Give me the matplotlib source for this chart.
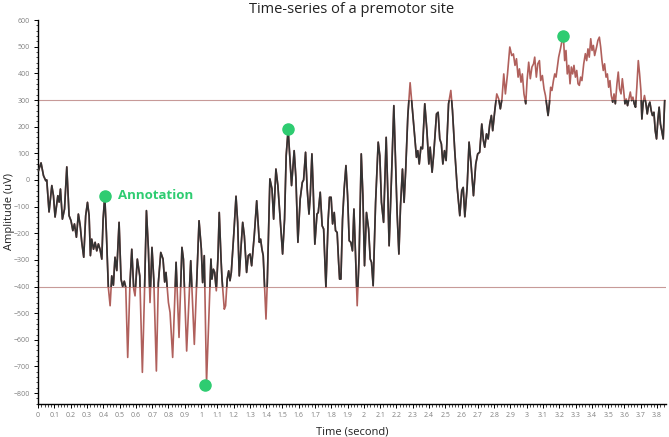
import matplotlib
matplotlib.use("Agg")
import matplotlib.pyplot as plt
from matplotlib.patches import Rectangle
from matplotlib.ticker import MultipleLocator, FormatStrFormatter

plt.rcParams["font.family"] = ["Open Sans", "DejaVu Sans"]

# --------------------------------------------------
# Signal (time in s, amplitude in uV)
# --------------------------------------------------
time_s = [
    0.002, 0.018, 0.033, 0.047, 0.053, 0.067, 0.084, 0.094, 0.104, 0.121,
    0.129, 0.137, 0.149, 0.162, 0.176, 0.190, 0.202, 0.213, 0.223, 0.235,
    0.247, 0.258, 0.268, 0.280, 0.292, 0.303, 0.313, 0.321, 0.329, 0.340,
    0.350, 0.360, 0.370, 0.380, 0.391, 0.399, 0.409, 0.419, 0.431, 0.442,
    0.452, 0.462, 0.472, 0.483, 0.497, 0.509, 0.519, 0.529, 0.538, 0.550,
    0.564, 0.575, 0.587, 0.595, 0.609, 0.624, 0.640, 0.652, 0.665, 0.677,
    0.687, 0.699, 0.710, 0.726, 0.738, 0.753, 0.767, 0.777,
    0.785, 0.800, 0.810, 0.826, 0.847, 0.865, 0.883, 0.892, 0.912, 0.937,
    0.959, 0.988, 1.002, 1.010, 1.020, 1.034, 1.061, 1.067, 1.076, 1.084,
    1.094, 1.104, 1.112, 1.123, 1.129, 1.143, 1.151, 1.161, 1.170, 1.178,
    1.186, 1.202, 1.215, 1.225, 1.235, 1.245, 1.256, 1.266, 1.280, 1.290,
    1.301, 1.311, 1.327, 1.342, 1.358, 1.366, 1.374, 1.382, 1.399, 1.407,
    1.423, 1.436, 1.446, 1.460, 1.472, 1.485, 1.501, 1.513, 1.523, 1.535,
    1.556, 1.572, 1.583, 1.595, 1.609, 1.622, 1.630, 1.642, 1.652, 1.663,
    1.671, 1.681, 1.689, 1.699, 1.712, 1.720, 1.732, 1.744, 1.753, 1.767,
    1.781, 1.789, 1.799, 1.808, 1.818, 1.826, 1.836, 1.845, 1.851, 1.859,
    1.869, 1.879, 1.890, 1.900, 1.910, 1.920, 1.930, 1.939, 1.949, 1.959,
    1.971, 1.984, 1.994, 2.004, 2.016, 2.029, 2.039, 2.047, 2.057, 2.072,
    2.088, 2.098, 2.108, 2.121, 2.137, 2.147, 2.155, 2.170, 2.184, 2.196,
    2.204, 2.215, 2.225, 2.237, 2.247, 2.257, 2.270, 2.284, 2.296,
    2.311, 2.323, 2.331, 2.340, 2.350, 2.360, 2.374, 2.387, 2.399, 2.407,
    2.419, 2.429, 2.446, 2.456, 2.466, 2.476, 2.485, 2.495, 2.505, 2.520,
    2.534, 2.544, 2.558, 2.573, 2.589, 2.601, 2.610, 2.620, 2.634, 2.646,
    2.658, 2.673, 2.687, 2.699, 2.711, 2.724, 2.734, 2.742, 2.753, 2.763,
    2.773, 2.783, 2.791, 2.804, 2.816, 2.828, 2.838, 2.848, 2.859, 2.869,
    2.882, 2.896, 2.908, 2.918, 2.928, 2.937, 2.947, 2.955, 2.965, 2.973,
    2.983, 2.994, 3.002, 3.012, 3.022, 3.032, 3.042,
    3.049, 3.059, 3.068, 3.078, 3.086, 3.096, 3.106, 3.115, 3.123, 3.131,
    3.139, 3.147, 3.155, 3.164, 3.172, 3.180, 3.188, 3.196, 3.207, 3.217,
    3.225, 3.233, 3.241, 3.249, 3.258, 3.266, 3.274, 3.282, 3.290, 3.299,
    3.307, 3.315, 3.323, 3.331, 3.339, 3.350, 3.360, 3.368, 3.376, 3.384,
    3.393, 3.401, 3.409, 3.417, 3.429, 3.437, 3.446, 3.454, 3.462, 3.470,
    3.478, 3.487, 3.495, 3.503, 3.511, 3.519, 3.528, 3.536, 3.544, 3.554,
    3.562, 3.570, 3.579, 3.587, 3.595, 3.603, 3.611, 3.619, 3.627, 3.636,
    3.644, 3.652, 3.660, 3.668, 3.676, 3.685, 3.693, 3.701, 3.707, 3.715,
    3.723, 3.732, 3.740, 3.748, 3.756, 3.764, 3.772, 3.781, 3.789, 3.797,
    3.805, 3.813, 3.821, 3.829, 3.838, 3.847,
]

amplitude_uv = [
    35, 64, 16, -3, 0, -120, -21, -59, -139, -59,
    -83, -34, -147, -109, 49, -134, -153, -190, -165, -215,
    -128, -170, -234, -290, -134, -84, -134, -284, -222, -260,
    -234, -266, -240, -260, -297, -147, -60, -197, -403, -472,
    -360, -395, -290, -340, -159, -372, -400, -380, -403, -666,
    -387, -260, -410, -435, -297, -360, -722, -447, -115, -260,
    -460, -253, -372, -717, -387, -272, -297, -383,
    -347, -460, -497, -666, -309, -591, -253, -297, -642, -303,
    -617, -153, -259, -385, -284, -760, -297, -372, -335, -347,
    -416, -291, -122, -297, -372, -485, -472, -372, -341, -378,
    -347, -197, -61, -159, -360, -259, -159, -209, -347, -284,
    -278, -322, -209, -78, -234, -222, -259, -284, -522, -385,
    4, -34, -147, 41, -21, -134, -278, -147, 91, 190,
    -21, 110, 4, -234, -71, -9, 0, 104, -34, -128,
    -59, 98, -34, -241, -128, -122, -46, -172, -184, -403,
    -147, -65, -65, -165, -122, -190, -197, -309, -372, -372,
    -147, -34, 54, -59, -228, -234, -266, -109, -284, -472,
    -284, 98, -59, -322, -122, -184, -297, -309, -397, -84,
    142, 91, -84, -159, 160, -46, -247, 16, 279, 41,
    -122, -278, -97, 41, -84, 41, 242, 365, 279,
    173, 85, 110, 60, 123, 117, 286, 185, 60, 123,
    29, 98, 248, 254, 154, 135, 60, 110, 73, 286,
    336, 261, 110, -28, -134, -40, -28, -138, -28, 142,
    60, -59, 60, 98, 104, 210, 148, 123, 173, 154,
    210, 242, 185, 261, 323, 304, 267, 304, 398, 323,
    398, 499, 467, 473, 430, 455, 386, 417, 367, 398,
    323, 286, 373, 442, 380, 424, 436,
    461, 386, 436, 448, 373, 392, 342, 317, 279, 242,
    286, 348, 336, 373, 398, 386, 424, 461, 492, 524,
    540, 448, 486, 398, 430, 361, 424, 398, 430, 386,
    411, 361, 355, 386, 373, 436, 474, 448, 492, 461,
    530, 486, 505, 467, 499, 524, 536, 499, 448, 411,
    436, 386, 398, 348, 373, 317, 292, 323, 286, 361,
    405, 342, 323, 380, 336, 286, 304, 279, 304, 330,
    298, 311, 286, 273, 348, 448, 398, 336, 229, 292,
    317, 286, 248, 279, 292, 261, 242, 254, 185, 154,
    223, 273, 210, 185, 154, 298,
]

# thresholds
upper_thr = 300
lower_thr = -400

# annotated points
marker_t = [0.411, 1.025, 1.532, 3.225]
marker_v = [-60, -770, 192, 540]
annot_text = "Annotation"

# --------------------------------------------------
# Plot
# --------------------------------------------------
fig = plt.figure(figsize=(6.69, 4.37), dpi=100)
ax = fig.add_axes([0.057, 0.076, 0.938, 0.878])

dark = "#333333"
red = "#b0605c"
green = "#2ecc71"

ax.axhline(upper_thr, color="#c79a98", lw=0.8, zorder=1)
ax.axhline(lower_thr, color="#c79a98", lw=0.8, zorder=1)

# full trace in red, then dark part clipped to the band between thresholds
ax.plot(time_s, amplitude_uv, color=red, lw=1.2, zorder=2)
band_line, = ax.plot(time_s, amplitude_uv, color=dark, lw=1.2, zorder=3)
band = Rectangle((-1, lower_thr), 10, upper_thr - lower_thr,
                 transform=ax.transData, fill=False, visible=False)
ax.add_patch(band)
band_line.set_clip_path(band)

ax.plot(marker_t, marker_v, "o", color=green, ms=8, zorder=5)
ax.text(marker_t[0] + 0.08, marker_v[0], annot_text, color=green,
        fontsize=9.5, fontweight="bold", va="center", ha="left")

ax.set_xlim(0, 3.853)
ax.set_ylim(-840, 600)

ax.xaxis.set_major_locator(MultipleLocator(0.1))
ax.xaxis.set_minor_locator(MultipleLocator(0.02))
ax.xaxis.set_major_formatter(FormatStrFormatter("%g"))
ax.yaxis.set_major_locator(MultipleLocator(100))
ax.yaxis.set_minor_locator(MultipleLocator(20))

for s in ["top", "right"]:
    ax.spines[s].set_visible(False)
for s in ["left", "bottom"]:
    ax.spines[s].set_linewidth(1.0)
    ax.spines[s].set_color("black")

ax.tick_params(which="major", length=3, width=0.7, labelsize=5,
               labelcolor="#808080", pad=3)
ax.tick_params(which="minor", length=1.8, width=0.5)

ax.set_xlabel("Time (second)", fontsize=8, color="#222222", labelpad=5)
ax.set_ylabel("Amplitude (uV)", fontsize=8, color="#222222")
ax.yaxis.set_label_coords(-0.037, 0.5)
ax.set_title("Time-series of a premotor site", fontsize=10.5,
             color="#222222", pad=5)

fig.savefig("out.png", dpi=100)
